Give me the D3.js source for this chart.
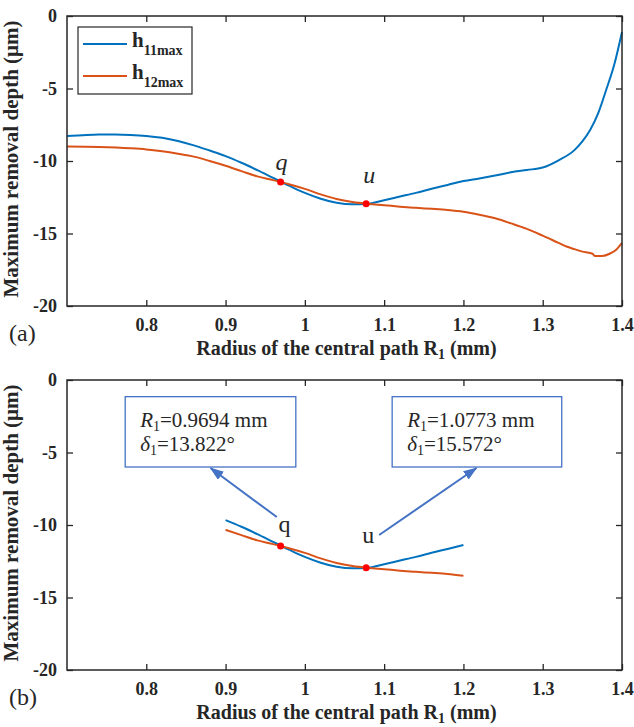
<!DOCTYPE html>
<html>
<head>
<meta charset="utf-8">
<script src="https://cdn.jsdelivr.net/npm/d3@7"></script>
<style>
  body { margin: 0; background: #fff; }
  svg { display: block; }
  text { font-family: "Times New Roman", "Liberation Serif", serif; fill: #262626; }
</style>
</head>
<body>
<svg id="chart" width="634" height="727"></svg>
<script>
// h11max (blue)
const r11 = [0.70,0.72,0.74,0.76,0.78,0.80,0.82,0.84,0.86,0.88,0.90,0.92,0.94,0.96,0.98,1.00,1.02,1.04,1.06,1.08,1.10,1.12,1.14,1.16,1.18,1.20,1.22,1.24,1.26,1.28,1.30,1.32,1.34,1.35,1.36,1.37,1.38,1.39,1.40];
const h11 = [-8.27,-8.22,-8.18,-8.17,-8.2,-8.27,-8.4,-8.62,-8.92,-9.28,-9.66,-10.12,-10.63,-11.17,-11.7,-12.2,-12.6,-12.88,-12.99,-12.94,-12.7,-12.45,-12.2,-11.92,-11.65,-11.38,-11.2,-11.0,-10.78,-10.62,-10.45,-9.95,-9.25,-8.65,-7.85,-6.7,-5.1,-3.4,-1.1];
// h12max (orange)
const r12 = [0.70,0.74,0.78,0.80,0.82,0.84,0.86,0.88,0.90,0.92,0.94,0.96,0.98,1.00,1.02,1.04,1.06,1.08,1.10,1.12,1.14,1.16,1.18,1.20,1.22,1.24,1.26,1.28,1.30,1.32,1.33,1.34,1.35,1.36,1.363,1.366,1.375,1.385,1.393,1.40];
const h12 = [-9.0,-9.03,-9.12,-9.2,-9.33,-9.5,-9.7,-10.0,-10.33,-10.7,-11.06,-11.32,-11.6,-11.92,-12.3,-12.62,-12.83,-12.96,-13.05,-13.15,-13.23,-13.3,-13.38,-13.5,-13.7,-13.95,-14.3,-14.68,-15.15,-15.65,-15.9,-16.08,-16.25,-16.35,-16.4,-16.55,-16.55,-16.38,-16.1,-15.65];

const seriesSubs = ["11max", "12max"];
const colors = ["#0072BD", "#D95319"];

// intersection points
const ptNames = ["q", "u"];
const ptR = [0.9694, 1.0773];
const ptH = [-11.45, -12.95];
const ptDelta = ["13.822", "15.572"];

const xTicks = [0.8, 0.9, 1, 1.1, 1.2, 1.3, 1.4];
const yTicks = [0, -5, -10, -15, -20];

const W = 555, H = 290;
const x = d3.scaleLinear().domain([0.7, 1.4]).range([0, W]);
const y = d3.scaleLinear().domain([-20, 0]).range([H, 0]);
const FONT = '"Times New Roman","Liberation Serif",serif';

const svg = d3.select("#chart");
svg.append("defs").append("marker")
    .attr("id", "arrow")
    .attr("markerUnits", "userSpaceOnUse")
    .attr("viewBox", "0 0 14 10")
    .attr("refX", 13).attr("refY", 5)
    .attr("markerWidth", 14).attr("markerHeight", 10)
    .attr("orient", "auto")
  .append("path")
    .attr("d", "M0,0L14,5L0,10Z")
    .attr("fill", "#4472C4");

const line = d3.line()
    .x(d => x(d[0]))
    .y(d => y(d[1]))
    .curve(d3.curveMonotoneX);

const s11 = r11.map((r, i) => [r, h11[i]]);
const s12 = r12.map((r, i) => [r, h12[i]]);

function panel(top, tag, xmin, xmax, italicLabels) {
  const g = svg.append("g").attr("transform", `translate(67,${top})`);

  [s11, s12].forEach((s, i) => {
    g.append("path")
      .datum(s.filter(d => d[0] >= xmin - 1e-9 && d[0] <= xmax + 1e-9))
      .attr("fill", "none")
      .attr("stroke", colors[i])
      .attr("stroke-width", 2)
      .attr("d", line);
  });

  g.selectAll(".pt").data(ptR).enter().append("circle")
    .attr("cx", d => x(d))
    .attr("cy", (d, i) => y(ptH[i]))
    .attr("r", 3.5)
    .attr("fill", "#FF0000");

  // axes (box with inward ticks)
  const ax = (axis) => g.append("g").call(axis)
    .attr("font-family", FONT)
    .call(a => a.select(".domain").remove());
  ax(d3.axisBottom(x).tickValues(xTicks).tickSize(-6).tickPadding(12).tickFormat(d => String(d)))
    .attr("transform", `translate(0,${H})`)
    .call(a => a.selectAll("text").attr("dy", "0.71em"));
  ax(d3.axisTop(x).tickValues(xTicks).tickSize(-6).tickFormat(""));
  ax(d3.axisLeft(y).tickValues(yTicks).tickSize(-6).tickPadding(10).tickFormat(d => String(d)));
  ax(d3.axisRight(y).tickValues(yTicks).tickSize(-6).tickFormat(""))
    .attr("transform", `translate(${W},0)`);
  g.selectAll(".tick line").attr("stroke", "#262626").attr("stroke-width", 1.3);
  g.selectAll(".tick text")
    .style("font-family", FONT)
    .style("font-weight", "bold").style("font-size", "18px").attr("fill", "#262626");

  g.append("rect").attr("width", W).attr("height", H)
    .attr("fill", "none").attr("stroke", "#262626").attr("stroke-width", 1.5);

  // axis titles
  g.append("text")
    .attr("transform", `translate(-49,${H / 2 - 2}) rotate(-90)`)
    .attr("text-anchor", "middle")
    .attr("font-weight", "bold").attr("font-size", 21)
    .text("Maximum removal depth (μm)");
  const xt = g.append("text")
    .attr("x", W / 2 + 2).attr("y", H + 49)
    .attr("text-anchor", "middle")
    .attr("font-weight", "bold").attr("font-size", 20);
  xt.append("tspan").text("Radius of the central path R");
  xt.append("tspan").attr("font-size", 14).attr("dy", 4).text("1");
  xt.append("tspan").attr("dy", -4).text(" (mm)");

  g.append("text").attr("x", -58).attr("y", H + 35)
    .attr("font-size", 24).text(tag);

  // point labels
  const lblOff = italicLabels ? [[1, -12], [3, -21]] : [[4, -14], [2, -25]];
  g.selectAll(".lbl").data(ptNames).enter().append("text")
    .attr("x", (d, i) => x(ptR[i]) + lblOff[i][0])
    .attr("y", (d, i) => y(ptH[i]) + lblOff[i][1])
    .attr("text-anchor", "middle")
    .attr("font-size", 24)
    .attr("font-style", italicLabels ? "italic" : "normal")
    .text(d => d);
  return g;
}

const ga = panel(16, "(a)", 0.7, 1.4, true);

// legend
const leg = ga.append("g").attr("transform", "translate(11,11)");
leg.append("rect").attr("width", 114).attr("height", 67)
  .attr("fill", "#fff").attr("stroke", "#262626").attr("stroke-width", 1.2);
seriesSubs.forEach((s, i) => {
  const ly = 17 + i * 32;
  leg.append("line").attr("x1", 5).attr("x2", 49).attr("y1", ly).attr("y2", ly)
    .attr("stroke", colors[i]).attr("stroke-width", 2);
  const t = leg.append("text").attr("x", 54).attr("y", ly + 3)
    .attr("font-weight", "bold").attr("font-size", 21);
  t.append("tspan").text("h");
  t.append("tspan").attr("font-size", 14).attr("dy", 8).text(s);
});

const gb = panel(380, "(b)", 0.9, 1.2, false);

// annotation boxes and arrows in panel (b)
const boxX = [[0.7734, 0.9886], [1.1101, 1.324]];
const boxY = [-1.15, -6.0];
const tipR = [0.881, 1.2165];
const tailR = [0.9646, 1.0937];
const tailH = [-9.45, -10.69];

ptNames.forEach((n, i) => {
  gb.append("rect")
    .attr("x", x(boxX[i][0])).attr("y", y(boxY[0]))
    .attr("width", x(boxX[i][1]) - x(boxX[i][0]))
    .attr("height", y(boxY[1]) - y(boxY[0]))
    .attr("fill", "#fff").attr("stroke", "#4472C4").attr("stroke-width", 1.3);
  const tx = x(boxX[i][0]) + 15, ty = y(boxY[0]);
  const t1 = gb.append("text").attr("x", tx).attr("y", ty + 30).attr("font-size", 21);
  t1.append("tspan").attr("font-style", "italic").text("R");
  t1.append("tspan").attr("font-size", 14).attr("dy", 4).text("1");
  t1.append("tspan").attr("dy", -4).text("=" + ptR[i].toFixed(4) + " mm");
  const t2 = gb.append("text").attr("x", tx).attr("y", ty + 54).attr("font-size", 21);
  t2.append("tspan").attr("font-style", "italic").text("δ");
  t2.append("tspan").attr("font-size", 14).attr("dy", 4).text("1");
  t2.append("tspan").attr("dy", -4).text("=" + ptDelta[i] + "°");

  gb.append("line")
    .attr("x1", x(tailR[i])).attr("y1", y(tailH[i]))
    .attr("x2", x(tipR[i])).attr("y2", y(boxY[1]) + 1)
    .attr("stroke", "#4472C4").attr("stroke-width", 2)
    .attr("marker-end", "url(#arrow)");
});
</script>
</body>
</html>
